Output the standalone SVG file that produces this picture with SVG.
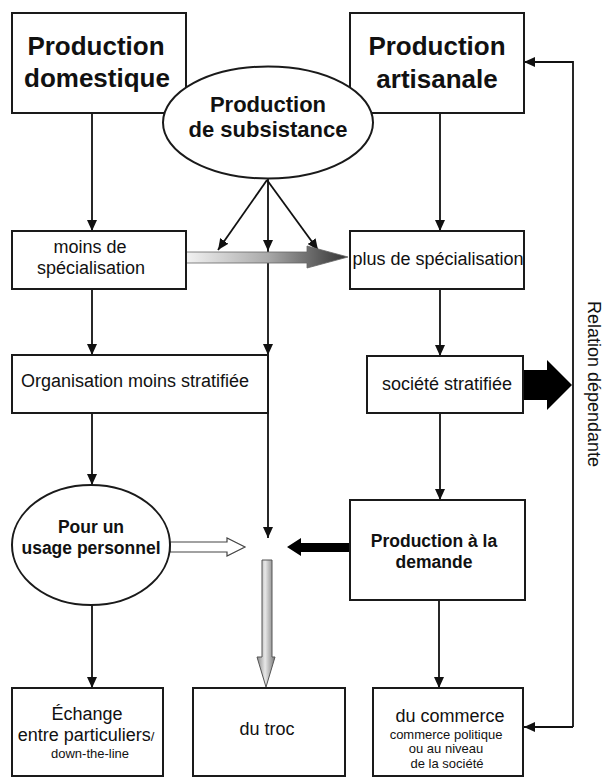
<svg xmlns="http://www.w3.org/2000/svg" width="603" height="778" viewBox="0 0 603 778">
<style>
.box{fill:#fff;stroke:#1a1a1a;stroke-width:2}
.con{fill:none;stroke:#111;stroke-width:1.8}
text{font-family:"Liberation Sans",Arial,sans-serif;fill:#111}
.big{font-size:26px;font-weight:bold;text-anchor:middle}
.mid{font-size:22px;font-weight:bold;text-anchor:middle}
.bold{font-size:17.5px;font-weight:bold;text-anchor:middle}
.reg{font-size:18px;text-anchor:middle}
.sm{font-size:13px;text-anchor:middle}
</style>
<defs>
<marker id="ah" viewBox="0 0 11 10" refX="11" refY="5" markerWidth="11" markerHeight="10" markerUnits="userSpaceOnUse" orient="auto">
<path d="M0,0 L11,5 L0,10 Z" fill="#111"/>
</marker>
<linearGradient id="gh" x1="186" y1="0" x2="348" y2="0" gradientUnits="userSpaceOnUse">
<stop offset="0" stop-color="#f2f2f2"/>
<stop offset="0.5" stop-color="#aaaaaa"/>
<stop offset="1" stop-color="#333333"/>
</linearGradient>
<linearGradient id="gv" x1="0" y1="0" x2="1" y2="0">
<stop offset="0" stop-color="#888"/>
<stop offset="0.45" stop-color="#e8e8e8"/>
<stop offset="1" stop-color="#777"/>
</linearGradient>
</defs>

<g id="connectors">
<path class="con" d="M92,113 V231" marker-end="url(#ah)"/>
<path class="con" d="M92,289 V355" marker-end="url(#ah)"/>
<path class="con" d="M92,413 V485" marker-end="url(#ah)"/>
<path class="con" d="M92,605 V688" marker-end="url(#ah)"/>
<path class="con" d="M440,113 V231" marker-end="url(#ah)"/>
<path class="con" d="M440,289 V356" marker-end="url(#ah)"/>
<path class="con" d="M440,413 V500" marker-end="url(#ah)"/>
<path class="con" d="M439,600 V688" marker-end="url(#ah)"/>
<path class="con" d="M268,178 V251" marker-end="url(#ah)"/>
<path class="con" d="M268,251 V355" marker-end="url(#ah)"/>
<path class="con" d="M268,355 V538" marker-end="url(#ah)"/>
<path class="con" d="M267,180 L218,250" marker-end="url(#ah)"/>
<path class="con" d="M267,180 L318,250" marker-end="url(#ah)"/>
<path class="con" d="M573,727 V62 H524" marker-end="url(#ah)"/>
<path class="con" d="M573,727 H524" marker-end="url(#ah)"/>
<path d="M186,252 H307 V246 L348,257 L307,268 V263 H186 Z" fill="url(#gh)" stroke="#666" stroke-width="0.8"/>
<path d="M523,370 H547 V360 L572,385 L547,410 V400 H523 Z" fill="#000"/>
<path d="M350,543 H301 V538 L287,547 L301,556 V552 H350 Z" fill="#000"/>
<path d="M170,542 H227 V538 L245,547 L227,556 V552 H170 Z" fill="#fff" stroke="#444" stroke-width="1.2"/>
<path d="M262,560 H272 V657 H275 L266,687 L257,657 H262 Z" fill="url(#gv)" stroke="#555" stroke-width="1"/>
</g>

<g id="n-domestique">
<rect class="box" x="12" y="13" width="174" height="100"/>
<text class="big" x="96" y="55">Production</text>
<text class="big" x="97" y="87">domestique</text>
</g>
<g id="n-artisanale">
<rect class="box" x="350" y="13" width="174" height="100"/>
<text class="big" x="437" y="55">Production</text>
<text class="big" x="437" y="88">artisanale</text>
</g>
<g id="n-subsistance">
<ellipse class="box" cx="268" cy="122.5" rx="105" ry="56"/>
<text class="mid" x="268" y="112">Production</text>
<text class="mid" x="268" y="137">de subsistance</text>
</g>
<g id="n-moins">
<rect class="box" x="12" y="231" width="174" height="58"/>
<text class="reg" x="90" y="253">moins de</text>
<text class="reg" x="91" y="274">spécialisation</text>
</g>
<g id="n-plus">
<rect class="box" x="350" y="231" width="174" height="58"/>
<text class="reg" x="438" y="265">plus de spécialisation</text>
</g>
<g id="n-organisation">
<rect class="box" x="12" y="355" width="256" height="58"/>
<text class="reg" x="135" y="387">Organisation moins stratifiée</text>
</g>
<g id="n-societe">
<rect class="box" x="367" y="356" width="156" height="57"/>
<text class="reg" x="447" y="390">société stratifiée</text>
</g>
<g id="n-usage">
<ellipse class="box" cx="91" cy="545" rx="79" ry="60"/>
<text class="bold" x="91" y="533">Pour un</text>
<text class="bold" x="91" y="554">usage personnel</text>
</g>
<g id="n-demande">
<rect class="box" x="350" y="500" width="175" height="100"/>
<text class="bold" x="434" y="547">Production à la</text>
<text class="bold" x="434" y="568">demande</text>
</g>
<g id="n-echange">
<rect class="box" x="12" y="688" width="151" height="88"/>
<text class="reg" x="87" y="720">Échange</text>
<text class="reg" x="86" y="741">entre particuliers<tspan font-size="13">/</tspan></text>
<text class="sm" x="90" y="758">down-the-line</text>
</g>
<g id="n-troc">
<rect class="box" x="193" y="688" width="152" height="88"/>
<text class="reg" x="267" y="735">du troc</text>
</g>
<g id="n-commerce">
<rect class="box" x="373" y="688" width="150" height="88"/>
<text class="reg" x="450" y="722">du commerce</text>
<text class="sm" x="446" y="739">commerce politique</text>
<text class="sm" x="446" y="753">ou au niveau</text>
<text class="sm" x="447" y="768">de la société</text>
</g>
<g id="label-relation">
<text class="reg" transform="translate(588,384) rotate(90)">Relation dépendante</text>
</g>
</svg>
